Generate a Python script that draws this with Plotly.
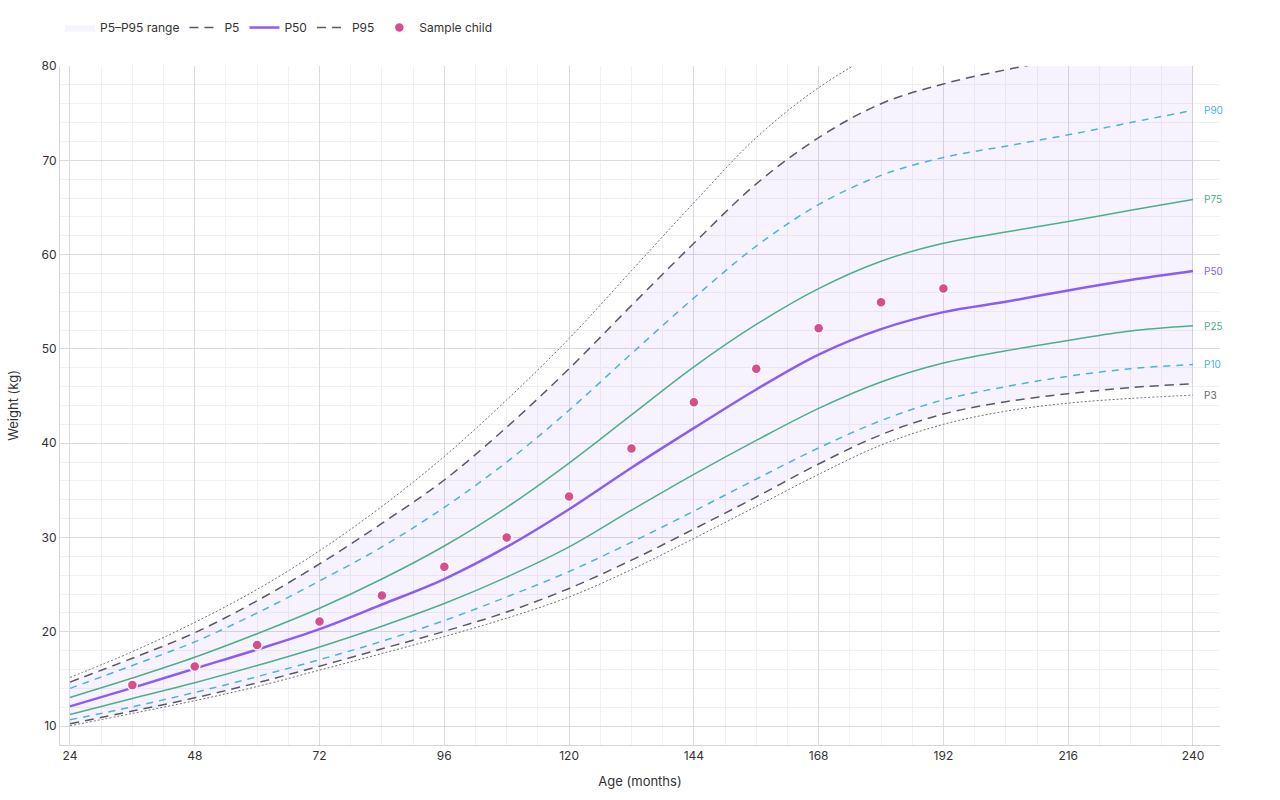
import plotly.graph_objects as go

ages = [24, 36, 48, 60, 72, 84, 96, 108, 120, 132, 144, 156, 168, 180, 192, 204, 216, 228, 240]

p3 = [10.04, 11.35, 12.7, 14.2, 15.94, 17.7, 19.5, 21.45, 23.7, 26.6, 29.9, 33.3, 36.7, 39.8, 42.0, 43.4, 44.25, 44.75, 45.1]
p5 = [10.25, 11.6, 13.0, 14.6, 16.36, 18.2, 20.05, 22.1, 24.6, 27.6, 30.9, 34.3, 37.8, 40.9, 43.1, 44.4, 45.25, 45.9, 46.3]
p10 = [10.67, 12.05, 13.57, 15.25, 17.05, 19.0, 21.2, 23.7, 26.4, 29.5, 32.8, 36.2, 39.5, 42.4, 44.6, 46.0, 47.1, 47.9, 48.35]
p25 = [11.24, 12.94, 14.6, 16.43, 18.4, 20.6, 23.0, 25.8, 29.0, 32.9, 36.7, 40.3, 43.7, 46.5, 48.5, 49.8, 50.9, 51.9, 52.45]
p50 = [12.1, 14.06, 16.1, 18.13, 20.29, 22.9, 25.6, 29.0, 33.0, 37.4, 41.6, 45.7, 49.4, 52.1, 53.9, 55.0, 56.2, 57.3, 58.25]
p75 = [13.04, 15.1, 17.3, 19.8, 22.5, 25.6, 29.1, 33.2, 37.9, 43.0, 48.1, 52.6, 56.4, 59.3, 61.2, 62.4, 63.5, 64.7, 65.85]
p90 = [14.0, 16.43, 18.94, 22.0, 25.4, 29.0, 33.2, 38.0, 43.5, 49.5, 55.4, 60.9, 65.3, 68.4, 70.3, 71.5, 72.7, 74.0, 75.3]
p95 = [14.67, 17.2, 19.9, 23.3, 27.2, 31.5, 36.1, 41.7, 47.9, 54.6, 61.2, 67.5, 72.4, 76.0, 78.1, 79.6, 80.8, 81.8, 82.6]
p97 = [15.16, 17.9, 21.0, 24.5, 28.6, 33.3, 38.6, 44.6, 51.1, 58.3, 65.5, 72.4, 77.7, 81.6, 84.3, 86.3, 87.9, 89.1, 90.1]

child_ages = [36, 48, 60, 72, 84, 96, 108, 120, 132, 144, 156, 168, 180, 192]
child_weight = [14.35, 16.33, 18.6, 21.1, 23.85, 26.9, 30.0, 34.35, 39.45, 44.35, 47.9, 52.2, 54.95, 56.4]

x_ticks = [24, 48, 72, 96, 120, 144, 168, 192, 216, 240]
y_ticks = [10, 20, 30, 40, 50, 60, 70, 80]

PURPLE = "#8b5cf6"
GREEN = "#4caf88"
BLUE = "#4ab4d8"
DARK = "#5c5766"
DOT = "#6e6e78"
PINK = "#d94c8f"

fig = go.Figure()
sm = 1.0

# range band
fig.add_trace(go.Scatter(x=ages, y=p5, mode="lines", line=dict(width=0, shape="spline", smoothing=sm),
                         showlegend=False, hoverinfo="skip"))
fig.add_trace(go.Scatter(x=ages, y=p95, mode="lines", line=dict(width=0, shape="spline", smoothing=sm),
                         fill="tonexty", fillcolor="rgba(139,92,246,0.07)", name="P5–P95 range"))

# non-legend percentiles
fig.add_trace(go.Scatter(x=ages, y=p3, mode="lines", showlegend=False,
                         line=dict(color=DOT, width=1, dash="2px,2px", shape="spline", smoothing=sm)))
fig.add_trace(go.Scatter(x=ages, y=p97, mode="lines", showlegend=False,
                         line=dict(color=DOT, width=1, dash="2px,2px", shape="spline", smoothing=sm)))
fig.add_trace(go.Scatter(x=ages, y=p10, mode="lines", showlegend=False,
                         line=dict(color=BLUE, width=1.5, dash="7px,6px", shape="spline", smoothing=sm)))
fig.add_trace(go.Scatter(x=ages, y=p90, mode="lines", showlegend=False,
                         line=dict(color=BLUE, width=1.5, dash="7px,6px", shape="spline", smoothing=sm)))
fig.add_trace(go.Scatter(x=ages, y=p25, mode="lines", showlegend=False,
                         line=dict(color=GREEN, width=1.5, shape="spline", smoothing=sm)))
fig.add_trace(go.Scatter(x=ages, y=p75, mode="lines", showlegend=False,
                         line=dict(color=GREEN, width=1.5, shape="spline", smoothing=sm)))

# legend percentiles
fig.add_trace(go.Scatter(x=ages, y=p5, mode="lines", name="P5",
                         line=dict(color=DARK, width=1.5, dash="9px,6px", shape="spline", smoothing=sm)))
fig.add_trace(go.Scatter(x=ages, y=p50, mode="lines", name="P50",
                         line=dict(color=PURPLE, width=2.5, shape="spline", smoothing=sm)))
fig.add_trace(go.Scatter(x=ages, y=p95, mode="lines", name="P95",
                         line=dict(color=DARK, width=1.5, dash="9px,6px", shape="spline", smoothing=sm)))

fig.add_trace(go.Scatter(x=child_ages, y=child_weight, mode="markers", name="Sample child",
                         marker=dict(color=PINK, size=10, line=dict(color="white", width=1.5))))

labels = [("P90", p90[-1], BLUE), ("P75", p75[-1], GREEN), ("P50", p50[-1], PURPLE),
          ("P25", p25[-1], GREEN), ("P10", p10[-1], BLUE), ("P3", p3[-1], "#666666")]
for txt, yv, col in labels:
    fig.add_annotation(x=ages[-1], y=yv, text=txt, showarrow=False, xanchor="left", xshift=9,
                       font=dict(size=10, color=col))

fig.update_layout(
    width=1280, height=800,
    margin=dict(l=60, r=60, t=66, b=55),
    paper_bgcolor="white", plot_bgcolor="white",
    font=dict(family="Inter, sans-serif", size=12, color="#333333"),
    showlegend=True,
    legend=dict(orientation="h", x=0, xanchor="left", y=1.078, yanchor="top", traceorder="normal",
                font=dict(size=12, color="#333333"), bgcolor="rgba(0,0,0,0)"),
    xaxis=dict(range=[22.08, 245.2], tickvals=x_ticks, showgrid=True, gridcolor="#dcd9e3", gridwidth=1,
               minor=dict(dtick=6, tick0=24, showgrid=True, gridcolor="#f1eff5", gridwidth=1),
               showline=True, linecolor="#d5d3dc", linewidth=1, zeroline=False, ticks="",
               title=dict(text="Age (months)", font=dict(size=13), standoff=14),
               tickfont=dict(size=12)),
    yaxis=dict(range=[8, 80], tickvals=y_ticks, showgrid=True, gridcolor="#dcd9e3", gridwidth=1,
               minor=dict(dtick=2, tick0=0, showgrid=True, gridcolor="#f1eff5", gridwidth=1),
               showline=True, linecolor="#d5d3dc", linewidth=1, zeroline=False, ticks="",
               title=dict(text="Weight (kg)", font=dict(size=13), standoff=19),
               tickfont=dict(size=12)),
)

fig.write_html("out.html")
